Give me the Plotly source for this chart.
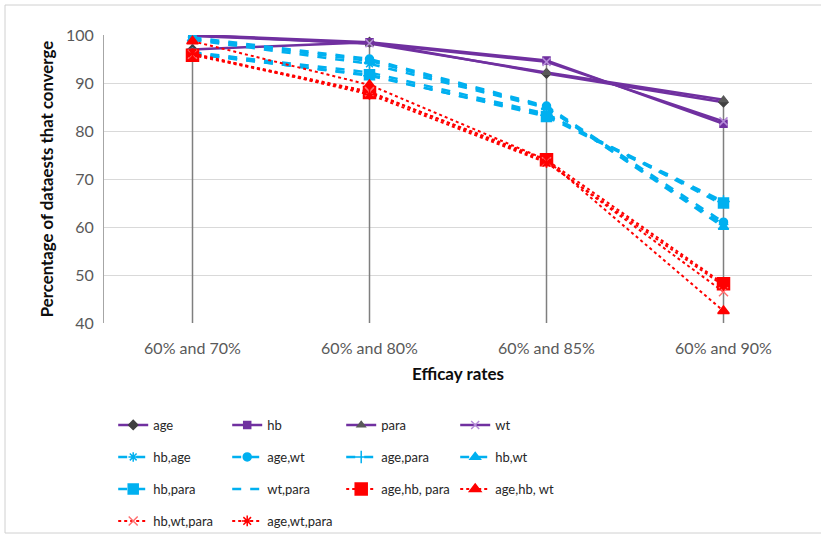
import plotly.graph_objects as go

categories = ["60% and 70%", "60% and 80%", "60% and 85%", "60% and 90%"]

# single covariates (purple, solid)
age = [97.0, 98.5, 92.0, 86.0]
hb = [100.0, 98.5, 94.7, 81.5]
para = [100.0, 98.2, 92.2, 86.5]
wt = [99.8, 98.3, 94.4, 82.0]

# pairs (blue, dashed)
hb_age = [99.0, 94.0, 84.8, 60.5]
age_wt = [99.5, 95.0, 85.2, 61.0]
age_para = [96.2, 91.5, 83.3, 65.3]
hb_wt = [99.2, 94.6, 85.0, 60.0]
hb_para = [96.0, 91.7, 83.0, 65.0]
wt_para = [96.4, 92.2, 83.6, 64.6]

# triples (red, dotted)
age_hb_para = [95.8, 88.0, 74.0, 48.2]
age_hb_wt = [98.7, 89.6, 74.0, 42.5]
hb_wt_para = [96.0, 88.2, 73.6, 46.5]
age_wt_para = [96.2, 87.6, 73.4, 47.8]

y_ticks = [40, 50, 60, 70, 80, 90, 100]

PURPLE = "#7030A0"
BLUE = "#00B0F0"
RED = "#FF0000"
DARK = "#404040"

series = [
    # name, values, color, dash, symbol, marker color, size, width, legend row
    ("age", age, PURPLE, "solid", "diamond", DARK, 7, 2.5, "legend"),
    ("hb", hb, PURPLE, "solid", "square", PURPLE, 7, 2.5, "legend"),
    ("para", para, PURPLE, "solid", "triangle-up", "#595959", 7, 2.5, "legend"),
    ("wt", wt, PURPLE, "solid", "x-thin-open", "#B58CD8", 8, 2.5, "legend"),
    ("hb,age", hb_age, BLUE, "dash", "asterisk-open", BLUE, 8, 2.5, "legend2"),
    ("age,wt", age_wt, BLUE, "dash", "circle", BLUE, 8, 2.5, "legend2"),
    ("age,para", age_para, BLUE, "dash", "cross-thin-open", BLUE, 9, 2.5, "legend2"),
    ("hb,wt", hb_wt, BLUE, "dash", "triangle-up", BLUE, 9, 2.5, "legend2"),
    ("hb,para", hb_para, BLUE, "dash", "square", BLUE, 10, 2.5, "legend3"),
    ("wt,para", wt_para, BLUE, "dash", None, BLUE, 0, 2.5, "legend3"),
    ("age,hb, para", age_hb_para, RED, "dot", "square", RED, 12, 2, "legend3"),
    ("age,hb, wt", age_hb_wt, RED, "dot", "triangle-up", RED, 10, 2, "legend3"),
    ("hb,wt,para", hb_wt_para, RED, "dot", "x-thin-open", "#FF7070", 9, 2, "legend4"),
    ("age,wt,para", age_wt_para, RED, "dot", "asterisk-open", RED, 9, 2, "legend4"),
]

fig = go.Figure()

# drop lines from the highest value of each category to the axis floor
all_vals = [s[1] for s in series]
dx, dy = [], []
for i, c in enumerate(categories):
    top = max(v[i] for v in all_vals)
    dx += [c, c, None]
    dy += [top, y_ticks[0], None]
fig.add_trace(go.Scatter(x=dx, y=dy, mode="lines", line=dict(color="#7F7F7F", width=1.5),
                         showlegend=False, hoverinfo="skip"))

for k, (name, vals, col, dash, sym, mcol, size, w, leg) in enumerate(series):
    mode = "lines+markers" if sym else "lines"
    marker = dict(symbol=sym, color=mcol, size=size,
                  line=dict(color=mcol, width=1.5)) if sym else None
    fig.add_trace(go.Scatter(
        x=categories, y=vals, name=name, mode=mode,
        line=dict(color=col, width=w, dash=dash),
        marker=marker, legend=leg,
    ))

FONT = "Lato, Noto Sans, sans-serif"
legend_common = dict(orientation="h", yanchor="middle", xanchor="left", x=0.013,
                     font=dict(family=FONT, size=13, color="#262626"),
                     entrywidth=69, entrywidthmode="pixels",
                     bgcolor="rgba(0,0,0,0)", itemwidth=30)

def row_y(px):
    return (323 - px) / 288

# figure is a bit taller than the 538px window so the last legend row never
# pushes the plot margins; the extra strip is outside the visible window
fig.update_layout(
    width=821, height=560,
    margin=dict(l=104, r=9, t=35, b=237),
    paper_bgcolor="white", plot_bgcolor="white",
    font=dict(family=FONT, size=13, color="#262626"),
    xaxis=dict(type="category", range=[-0.5, 3.5], showgrid=False, showline=False, ticks="",
               tickfont=dict(size=16, color="#595959"), ticklabelstandoff=14,
               title=dict(text="<b>Efficay rates</b>", font=dict(size=17, color="#0D0D0D"),
                          standoff=12)),
    yaxis=dict(range=[40, 100], tickvals=y_ticks, showgrid=True, gridcolor="#D9D9D9",
               gridwidth=1, showline=True, linecolor="#A6A6A6", linewidth=1,
               zeroline=False, ticks="", tickfont=dict(size=16, color="#595959"),
               ticklabelstandoff=6,
               title=dict(text="<b>Percentage of dataests that converge</b>",
                          font=dict(size=16.8, color="#0D0D0D"), standoff=8)),
    legend=dict(y=row_y(425), **legend_common),
    legend2=dict(y=row_y(457), **legend_common),
    legend3=dict(y=row_y(489), **legend_common),
    legend4=dict(y=row_y(521), **legend_common),
    shapes=[dict(type="rect", xref="paper", yref="paper",
                 x0=-99 / 708, x1=803 / 708, y0=-(533 - 323) / 288, y1=(323 - 5) / 288,
                 line=dict(color="#D0D0D0", width=1), layer="below")],
)

fig.write_html("out.html", config={"displayModeBar": False},
               post_script="document.body.style.margin='0';document.body.style.overflow='hidden';")
